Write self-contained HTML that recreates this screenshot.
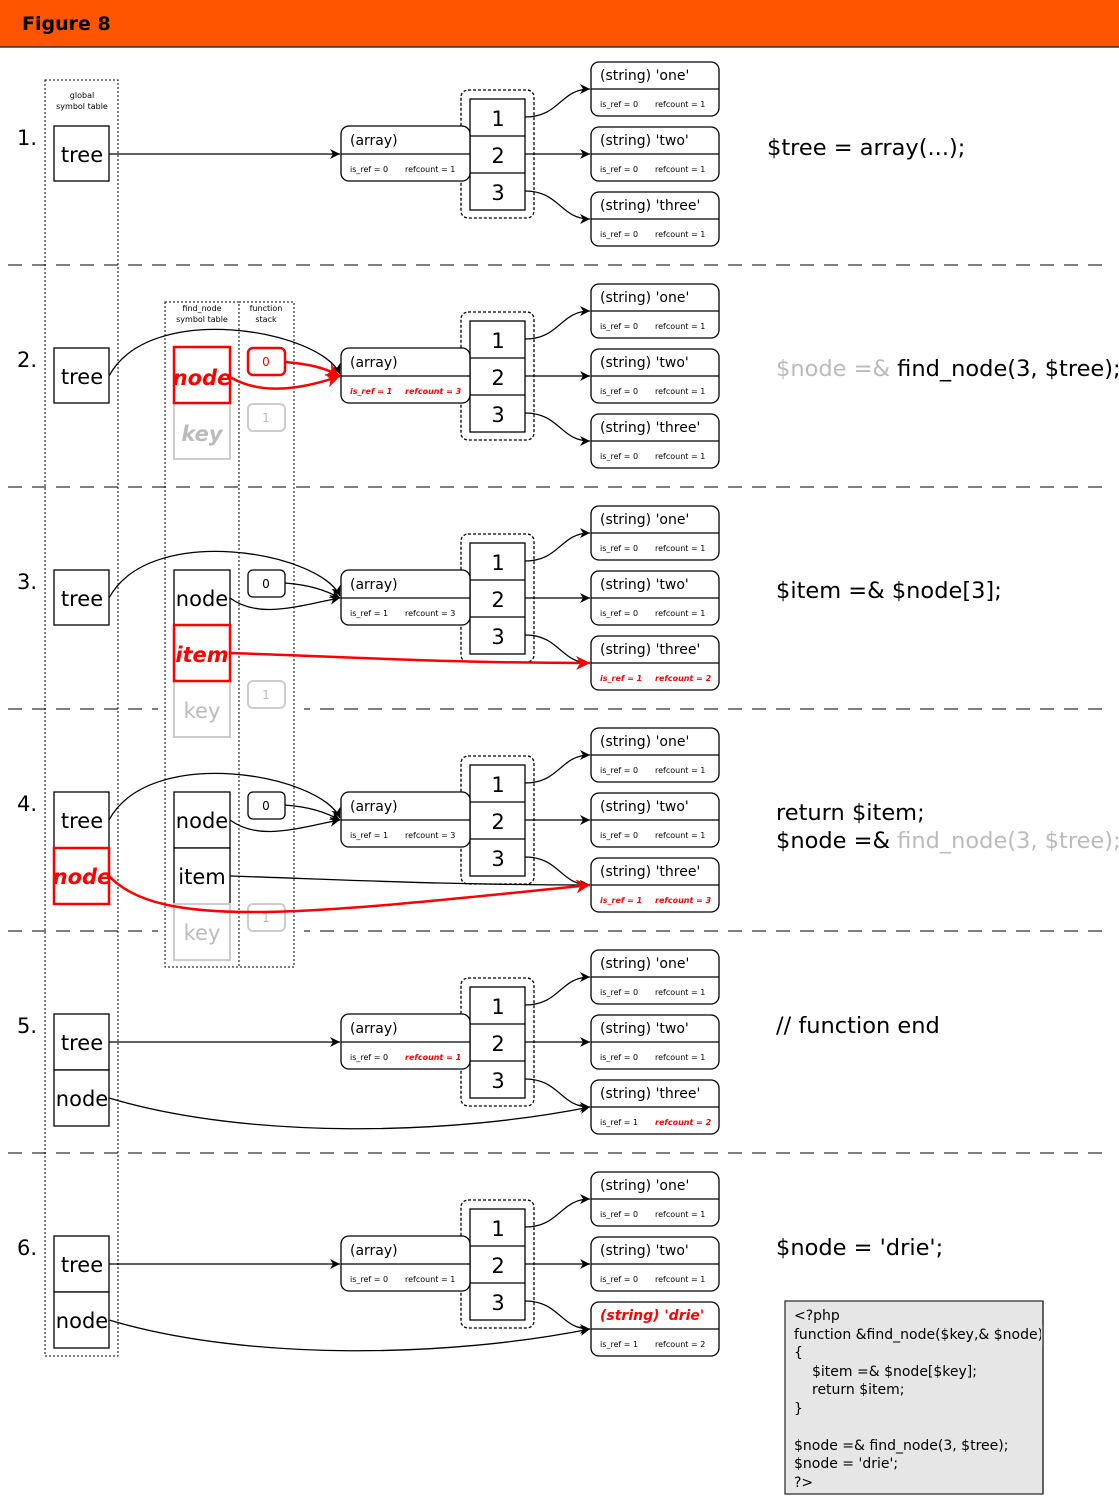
<!DOCTYPE html>
<html><head><meta charset="utf-8"><style>
body{margin:0;background:#fff;}
svg{display:block;font-family:"DejaVu Sans","Liberation Sans",sans-serif;}
.t{font-size:14px;}
.s{font-size:8px;}
.n{font-size:21px;}
.st{font-size:22.5px;}
.r{fill:#f00;font-weight:bold;font-style:italic;}
.g{fill:#bbb;}
</style></head><body>
<svg width="1119" height="1500" viewBox="0 0 1119 1500" xmlns="http://www.w3.org/2000/svg">
<defs>
<marker id="a" viewBox="0 0 10 10" refX="10" refY="5" markerWidth="10" markerHeight="10" markerUnits="userSpaceOnUse" orient="auto"><path d="M0,0 L10,5 L0,10 L3,5z" fill="#000"/></marker>
<marker id="ar" viewBox="0 0 10 10" refX="10" refY="5" markerWidth="14" markerHeight="14" markerUnits="userSpaceOnUse" orient="auto"><path d="M0,0 L10,5 L0,10 L3,5z" fill="#f00"/></marker>
</defs>
<rect x="0" y="0" width="1119" height="47" fill="#ff5500"/>
<line x1="0" y1="47" x2="1119" y2="47" stroke="#333" stroke-width="1.5"/>
<text x="22" y="30" font-size="19" font-weight="bold" fill="#000">Figure 8</text>

<g stroke="#333" stroke-width="1.3" stroke-dasharray="14,10">
<line x1="8" y1="265" x2="1105" y2="265"/><line x1="8" y1="487" x2="1105" y2="487"/>
<line x1="8" y1="709" x2="1105" y2="709"/><line x1="8" y1="931" x2="1105" y2="931"/>
<line x1="8" y1="1153" x2="1105" y2="1153"/>
</g>
<rect x="158" y="700" width="146" height="18" fill="#fff"/>
<rect x="158" y="922" width="146" height="18" fill="#fff"/>

<rect x="45" y="80" width="73" height="1276" fill="none" stroke="#000" stroke-dasharray="2,2"/>
<text x="82" y="98" font-size="8" text-anchor="middle">global</text>
<text x="82" y="109" font-size="8" text-anchor="middle">symbol table</text>
<rect x="165" y="302" width="74" height="665" fill="none" stroke="#000" stroke-dasharray="2,2"/>
<rect x="239" y="302" width="55" height="665" fill="none" stroke="#000" stroke-dasharray="2,2"/>
<text x="202" y="311" font-size="8" text-anchor="middle">find_node</text>
<text x="202" y="322" font-size="8" text-anchor="middle">symbol table</text>
<text x="266" y="311" font-size="8" text-anchor="middle">function</text>
<text x="266" y="322" font-size="8" text-anchor="middle">stack</text>

<g fill="none" stroke="#000" stroke-width="1.3">
<rect x="461" y="90" width="73" height="128" rx="7" stroke-dasharray="3,2"/>
<rect x="461" y="312" width="73" height="128" rx="7" stroke-dasharray="3,2"/>
<rect x="461" y="534" width="73" height="128" rx="7" stroke-dasharray="3,2"/>
<rect x="461" y="756" width="73" height="128" rx="7" stroke-dasharray="3,2"/>
<rect x="461" y="978" width="73" height="128" rx="7" stroke-dasharray="3,2"/>
<rect x="461" y="1200" width="73" height="128" rx="7" stroke-dasharray="3,2"/>
</g>
<g fill="#fff" stroke="#000" stroke-width="1.3">
<rect x="470" y="99" width="55" height="111"/><line x1="470" y1="136" x2="525" y2="136"/><line x1="470" y1="173" x2="525" y2="173"/>
<rect x="470" y="321" width="55" height="111"/><line x1="470" y1="358" x2="525" y2="358"/><line x1="470" y1="395" x2="525" y2="395"/>
<rect x="470" y="543" width="55" height="111"/><line x1="470" y1="580" x2="525" y2="580"/><line x1="470" y1="617" x2="525" y2="617"/>
<rect x="470" y="765" width="55" height="111"/><line x1="470" y1="802" x2="525" y2="802"/><line x1="470" y1="839" x2="525" y2="839"/>
<rect x="470" y="987" width="55" height="111"/><line x1="470" y1="1024" x2="525" y2="1024"/><line x1="470" y1="1061" x2="525" y2="1061"/>
<rect x="470" y="1209" width="55" height="111"/><line x1="470" y1="1246" x2="525" y2="1246"/><line x1="470" y1="1283" x2="525" y2="1283"/>
<rect x="341" y="126" width="129" height="55" rx="8"/><line x1="341" y1="154" x2="470" y2="154"/>
<rect x="341" y="348" width="129" height="55" rx="8"/><line x1="341" y1="376" x2="470" y2="376"/>
<rect x="341" y="570" width="129" height="55" rx="8"/><line x1="341" y1="598" x2="470" y2="598"/>
<rect x="341" y="792" width="129" height="55" rx="8"/><line x1="341" y1="820" x2="470" y2="820"/>
<rect x="341" y="1014" width="129" height="55" rx="8"/><line x1="341" y1="1042" x2="470" y2="1042"/>
<rect x="341" y="1236" width="129" height="55" rx="8"/><line x1="341" y1="1264" x2="470" y2="1264"/>
<rect x="591" y="62" width="128" height="54" rx="8"/><line x1="591" y1="89" x2="719" y2="89"/>
<rect x="591" y="127" width="128" height="54" rx="8"/><line x1="591" y1="154" x2="719" y2="154"/>
<rect x="591" y="192" width="128" height="54" rx="8"/><line x1="591" y1="219" x2="719" y2="219"/>
<rect x="591" y="284" width="128" height="54" rx="8"/><line x1="591" y1="311" x2="719" y2="311"/>
<rect x="591" y="349" width="128" height="54" rx="8"/><line x1="591" y1="376" x2="719" y2="376"/>
<rect x="591" y="414" width="128" height="54" rx="8"/><line x1="591" y1="441" x2="719" y2="441"/>
<rect x="591" y="506" width="128" height="54" rx="8"/><line x1="591" y1="533" x2="719" y2="533"/>
<rect x="591" y="571" width="128" height="54" rx="8"/><line x1="591" y1="598" x2="719" y2="598"/>
<rect x="591" y="636" width="128" height="54" rx="8"/><line x1="591" y1="663" x2="719" y2="663"/>
<rect x="591" y="728" width="128" height="54" rx="8"/><line x1="591" y1="755" x2="719" y2="755"/>
<rect x="591" y="793" width="128" height="54" rx="8"/><line x1="591" y1="820" x2="719" y2="820"/>
<rect x="591" y="858" width="128" height="54" rx="8"/><line x1="591" y1="885" x2="719" y2="885"/>
<rect x="591" y="950" width="128" height="54" rx="8"/><line x1="591" y1="977" x2="719" y2="977"/>
<rect x="591" y="1015" width="128" height="54" rx="8"/><line x1="591" y1="1042" x2="719" y2="1042"/>
<rect x="591" y="1080" width="128" height="54" rx="8"/><line x1="591" y1="1107" x2="719" y2="1107"/>
<rect x="591" y="1172" width="128" height="54" rx="8"/><line x1="591" y1="1199" x2="719" y2="1199"/>
<rect x="591" y="1237" width="128" height="54" rx="8"/><line x1="591" y1="1264" x2="719" y2="1264"/>
<rect x="591" y="1302" width="128" height="54" rx="8"/><line x1="591" y1="1329" x2="719" y2="1329"/>
<rect x="54" y="126" width="55" height="55"/>
<rect x="54" y="348" width="55" height="55"/>
<rect x="54" y="570" width="55" height="55"/>
<rect x="54" y="792" width="55" height="56"/>
<rect x="54" y="1014" width="55" height="56"/><rect x="54" y="1070" width="55" height="56"/>
<rect x="54" y="1236" width="55" height="56"/><rect x="54" y="1292" width="55" height="56"/>
<rect x="174" y="570" width="56" height="55"/>
<rect x="174" y="792" width="56" height="56"/><rect x="174" y="848" width="56" height="56"/>
<rect x="248" y="570" width="37" height="27" rx="5"/>
<rect x="248" y="792" width="37" height="27" rx="5"/>
</g>
<g fill="#fff" stroke="#ccc" stroke-width="2">
<rect x="174" y="403" width="56" height="56"/>
<rect x="174" y="681" width="56" height="56"/>
<rect x="174" y="904" width="56" height="56"/>
<rect x="248" y="404" width="37" height="27" rx="5"/>
<rect x="248" y="681" width="37" height="27" rx="5"/>
<rect x="248" y="904" width="37" height="27" rx="5"/>
</g>
<g fill="#fff" stroke="#f00" stroke-width="2.5">
<rect x="174" y="347" width="56" height="56"/>
<rect x="248" y="348" width="37" height="27" rx="5"/>
<rect x="174" y="625" width="56" height="56"/>
<rect x="54" y="848" width="55" height="56"/>
</g>

<g class="n" text-anchor="middle">
<text x="498" y="126">1</text><text x="498" y="163">2</text><text x="498" y="200">3</text>
<text x="498" y="348">1</text><text x="498" y="385">2</text><text x="498" y="422">3</text>
<text x="498" y="570">1</text><text x="498" y="607">2</text><text x="498" y="644">3</text>
<text x="498" y="792">1</text><text x="498" y="829">2</text><text x="498" y="866">3</text>
<text x="498" y="1014">1</text><text x="498" y="1051">2</text><text x="498" y="1088">3</text>
<text x="498" y="1236">1</text><text x="498" y="1273">2</text><text x="498" y="1310">3</text>
</g>
<g class="n">
<text x="17" y="145">1.</text><text x="17" y="367">2.</text><text x="17" y="589">3.</text>
<text x="17" y="811">4.</text><text x="17" y="1033">5.</text><text x="17" y="1255">6.</text>
</g>
<g class="n" text-anchor="middle">
<text x="82" y="162">tree</text><text x="82" y="384">tree</text><text x="82" y="606">tree</text>
<text x="82" y="828">tree</text><text x="82" y="884" class="r">node</text>
<text x="82" y="1050">tree</text><text x="82" y="1106">node</text>
<text x="82" y="1272">tree</text><text x="82" y="1328">node</text>
<text x="202" y="385" class="r">node</text><text x="202" y="441" fill="#bbb" font-weight="bold" font-style="italic">key</text>
<text x="202" y="606">node</text><text x="202" y="662" class="r">item</text><text x="202" y="718" class="g">key</text>
<text x="202" y="828">node</text><text x="202" y="884">item</text><text x="202" y="940" class="g">key</text>
</g>
<g font-size="12" text-anchor="middle">
<text x="266" y="366" fill="#f00">0</text><text x="266" y="422" fill="#bbb">1</text>
<text x="266" y="588">0</text><text x="266" y="699" fill="#bbb">1</text>
<text x="266" y="810">0</text><text x="266" y="922" fill="#bbb">1</text>
</g>
<g class="t">
<text x="350" y="145">(array)</text><text x="350" y="367">(array)</text><text x="350" y="589">(array)</text>
<text x="350" y="811">(array)</text><text x="350" y="1033">(array)</text><text x="350" y="1255">(array)</text>
</g>
<g class="s">
<text x="350" y="172">is_ref = 0</text><text x="405" y="172">refcount = 1</text>
<text x="350" y="394" class="r">is_ref = 1</text><text x="405" y="394" class="r">refcount = 3</text>
<text x="350" y="616">is_ref = 1</text><text x="405" y="616">refcount = 3</text>
<text x="350" y="838">is_ref = 1</text><text x="405" y="838">refcount = 3</text>
<text x="350" y="1060">is_ref = 0</text><text x="405" y="1060" class="r">refcount = 1</text>
<text x="350" y="1282">is_ref = 0</text><text x="405" y="1282">refcount = 1</text>
</g>
<g class="t">
<text x="600" y="80">(string) 'one'</text><text x="600" y="145">(string) 'two'</text><text x="600" y="210">(string) 'three'</text>
<text x="600" y="302">(string) 'one'</text><text x="600" y="367">(string) 'two'</text><text x="600" y="432">(string) 'three'</text>
<text x="600" y="524">(string) 'one'</text><text x="600" y="589">(string) 'two'</text><text x="600" y="654">(string) 'three'</text>
<text x="600" y="746">(string) 'one'</text><text x="600" y="811">(string) 'two'</text><text x="600" y="876">(string) 'three'</text>
<text x="600" y="968">(string) 'one'</text><text x="600" y="1033">(string) 'two'</text><text x="600" y="1098">(string) 'three'</text>
<text x="600" y="1190">(string) 'one'</text><text x="600" y="1255">(string) 'two'</text><text x="600" y="1320" class="r">(string) 'drie'</text>
</g>
<g class="s">
<text x="600" y="107">is_ref = 0</text><text x="655" y="107">refcount = 1</text>
<text x="600" y="172">is_ref = 0</text><text x="655" y="172">refcount = 1</text>
<text x="600" y="237">is_ref = 0</text><text x="655" y="237">refcount = 1</text>
<text x="600" y="329">is_ref = 0</text><text x="655" y="329">refcount = 1</text>
<text x="600" y="394">is_ref = 0</text><text x="655" y="394">refcount = 1</text>
<text x="600" y="459">is_ref = 0</text><text x="655" y="459">refcount = 1</text>
<text x="600" y="551">is_ref = 0</text><text x="655" y="551">refcount = 1</text>
<text x="600" y="616">is_ref = 0</text><text x="655" y="616">refcount = 1</text>
<text x="600" y="681" class="r">is_ref = 1</text><text x="655" y="681" class="r">refcount = 2</text>
<text x="600" y="773">is_ref = 0</text><text x="655" y="773">refcount = 1</text>
<text x="600" y="838">is_ref = 0</text><text x="655" y="838">refcount = 1</text>
<text x="600" y="903" class="r">is_ref = 1</text><text x="655" y="903" class="r">refcount = 3</text>
<text x="600" y="995">is_ref = 0</text><text x="655" y="995">refcount = 1</text>
<text x="600" y="1060">is_ref = 0</text><text x="655" y="1060">refcount = 1</text>
<text x="600" y="1125">is_ref = 1</text><text x="655" y="1125" class="r">refcount = 2</text>
<text x="600" y="1217">is_ref = 0</text><text x="655" y="1217">refcount = 1</text>
<text x="600" y="1282">is_ref = 0</text><text x="655" y="1282">refcount = 1</text>
<text x="600" y="1347">is_ref = 1</text><text x="655" y="1347">refcount = 2</text>
</g>

<g fill="none" stroke="#000" stroke-width="1.3" marker-end="url(#a)">
<path d="M525,117 C560,117 560,89 590,89"/><path d="M525,154 L590,154"/><path d="M525,191 C560,191 560,219 590,219"/>
<path d="M525,339 C560,339 560,311 590,311"/><path d="M525,376 L590,376"/><path d="M525,413 C560,413 560,441 590,441"/>
<path d="M525,561 C560,561 560,533 590,533"/><path d="M525,598 L590,598"/><path d="M525,635 C560,635 560,663 590,663"/>
<path d="M525,783 C560,783 560,755 590,755"/><path d="M525,820 L590,820"/><path d="M525,857 C560,857 560,885 590,885"/>
<path d="M525,1005 C560,1005 560,977 590,977"/><path d="M525,1042 L590,1042"/><path d="M525,1079 C560,1079 560,1107 590,1107"/>
<path d="M525,1227 C560,1227 560,1199 590,1199"/><path d="M525,1264 L590,1264"/><path d="M525,1301 C560,1301 560,1329 590,1329"/>
<path d="M109,154 L340,154"/>
<path d="M109,376 C150,300 320,330 340,374"/>
<path d="M109,598 C150,522 320,552 340,596"/>
<path d="M109,820 C150,744 320,774 340,818"/>
<path d="M109,1042 L340,1042"/>
<path d="M109,1264 L340,1264"/>
<path d="M230,598 C260,620 300,605 340,598"/><path d="M285,583 C310,585 325,590 340,598"/>
<path d="M230,820 C260,842 300,827 340,820"/><path d="M285,805 C310,807 325,812 340,820"/>
<path d="M230,876 C350,880 450,885 590,885"/>
<path d="M109,1098 C250,1140 450,1135 590,1107"/>
<path d="M109,1320 C250,1362 450,1357 590,1329"/>
</g>
<g fill="none" stroke="#f00" stroke-width="2.5" marker-end="url(#ar)">
<path d="M230,377 C260,395 300,390 340,376"/>
<path d="M285,362 C310,364 325,368 340,376"/>
<path d="M230,653 C350,657 450,663 590,663"/>
<path d="M109,876 C160,930 300,915 590,885"/>
</g>

<g class="st">
<text x="767" y="155">$tree = array(...);</text>
<text x="776" y="376"><tspan fill="#bbb">$node =&amp;</tspan> find_node(3, $tree);</text>
<text x="776" y="598">$item =&amp; $node[3];</text>
<text x="776" y="820">return $item;</text>
<text x="776" y="848">$node =&amp; <tspan fill="#bbb">find_node(3, $tree);</tspan></text>
<text x="776" y="1033">// function end</text>
<text x="776" y="1255">$node = 'drie';</text>
</g>

<rect x="785" y="1301" width="258" height="193" fill="#e6e6e6" stroke="#333" stroke-width="1.3"/>
<g font-size="14">
<text x="794" y="1320">&lt;?php</text>
<text x="794" y="1339">function &amp;find_node($key,&amp; $node)</text>
<text x="794" y="1357">{</text>
<text x="812" y="1376">$item =&amp; $node[$key];</text>
<text x="812" y="1394">return $item;</text>
<text x="794" y="1413">}</text>
<text x="794" y="1450">$node =&amp; find_node(3, $tree);</text>
<text x="794" y="1468">$node = 'drie';</text>
<text x="794" y="1487">?&gt;</text>
</g>
<rect x="1041" y="1325" width="2" height="20" fill="#e6e6e6"/>
<rect x="1044" y="1320" width="20" height="30" fill="#fff"/>
<line x1="1043" y1="1301" x2="1043" y2="1494" stroke="#333" stroke-width="1.3"/>
</svg>
</body></html>
